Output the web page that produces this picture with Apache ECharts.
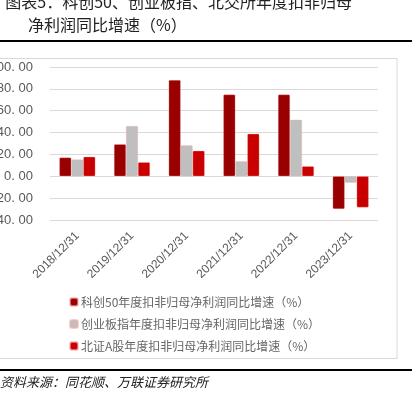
<!DOCTYPE html>
<html>
<head>
<meta charset="utf-8">
<script src="https://cdn.jsdelivr.net/npm/echarts@6/dist/echarts.min.js"></script>
<style>
  html,body{margin:0;padding:0;background:#fff;}
  #main{width:412px;height:397px;}
</style>
</head>
<body>
<div id="main"></div>
<script>
var categories = ['2018/12/31','2019/12/31','2020/12/31','2021/12/31','2022/12/31','2023/12/31'];
var kc50 = [17.2, 29.4, 88.0, 74.8, 74.8, -30.0];
var cyb = [15.3, 46.0, 28.5, 13.8, 51.8, -5.9];
var bzA = [17.8, 12.9, 23.3, 38.9, 9.2, -28.5];
var seriesNames = [
  '科创50年度扣非归母净利润同比增速（%）',
  '创业板指年度扣非归母净利润同比增速（%）',
  '北证A股年度扣非归母净利润同比增速（%）'
];
var colors = ['#990000', '#bfbfbf', '#c80000'];

var myChart = echarts.init(document.getElementById('main'));
var font = '"Noto Sans CJK SC", sans-serif';

function makeSeries(i, data){
  return {
    name: seriesNames[i],
    type: 'bar',
    barWidth: 12,
    barGap: '0%',
    data: data,
    itemStyle: {
      color: colors[i],
      borderColor: 'rgba(255,170,170,0.6)',
      borderWidth: 0.5,
      borderRadius: 1
    }
  };
}

var option = {
  animation: false,
  backgroundColor: '#fff',
  textStyle: {fontFamily: font},
  graphic: [
    {type:'text', right: 60, top: -6, style:{text:'图表5：科创50、创业板指、北交所年度扣非归母', font:'16px ' + font, fill:'#222'}},
    {type:'text', left: 28, top: 17, style:{text:'净利润同比增速（%）', font:'16px ' + font, fill:'#222'}},
    {type:'rect', shape:{x:0, y:40, width:412, height:2}, style:{fill:'#000'}},
    {type:'rect', shape:{x:-5, y:58.5, width:402, height:300}, style:{fill:'none', stroke:'#d9d9d9', lineWidth:1}},
    {type:'rect', shape:{x:0, y:369, width:412, height:2}, style:{fill:'#000'}},
    {type:'text', left: 0, top: 376, style:{text:'资料来源：同花顺、万联证券研究所', font:'italic 13px ' + font, fill:'#222'}}
  ],
  legend: {
    orient: 'vertical',
    left: 64,
    top: 291,
    itemWidth: 8,
    itemHeight: 8,
    itemGap: 10,
    icon: 'roundRect',
    textStyle: {color: '#666', fontSize: 12, fontFamily: font, padding: [0,0,0,-2]},
    data: seriesNames
  },
  grid: {left: 50, right: 34, top: 67, bottom: 177, outerBoundsMode: 'none', containLabel: false},
  xAxis: {
    type: 'category',
    data: categories,
    axisLine: {show: false},
    axisTick: {show: false},
    axisLabel: {
      rotate: 45,
      interval: 0,
      color: '#595959',
      fontSize: 12,
      margin: 14,
      fontFamily: 'Liberation Sans, Arial, sans-serif'
    }
  },
  yAxis: {
    type: 'value',
    min: -40,
    max: 100,
    interval: 20,
    axisLine: {show: false},
    axisTick: {show: false},
    splitLine: {lineStyle: {color: '#d9d9d9', width: 1}},
    axisLabel: {
      color: '#595959',
      fontSize: 13,
      margin: 17,
      fontFamily: 'Liberation Sans, Arial, sans-serif',
      formatter: function(v){ return v.toFixed(2).replace('.', '. '); }
    }
  },
  series: [makeSeries(0, kc50), makeSeries(1, cyb), makeSeries(2, bzA)]
};
myChart.setOption(option);
</script>
</body>
</html>
